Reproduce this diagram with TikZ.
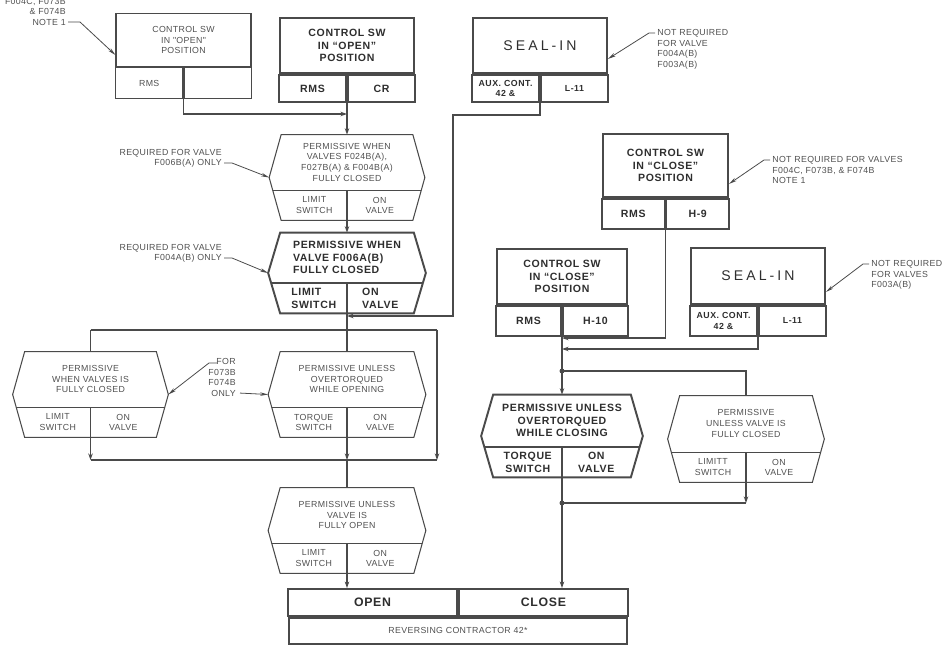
\documentclass[tikz,border=0pt]{standalone}
\usepackage{fontspec}
\setmainfont{Liberation Sans}
\newfontfamily\cadfont[LetterSpace=4]{Liberation Sans}
\newfontfamily\handfont[LetterSpace=6]{Liberation Sans}
\newfontfamily\sealfont[LetterSpace=22]{Liberation Sans}
\usetikzlibrary{arrows.meta}
\newdimen\pxu \pxu=0.02cm
\definecolor{InkGray}{HTML}{4A4A4A}
\definecolor{ThinText}{HTML}{505050}
\definecolor{HandText}{HTML}{2E2E2E}
\tikzset{
    thinline/.style={draw=InkGray, line width=0.6pt},
    boldline/.style={draw=InkGray, line width=1.1pt},
    boldleftline/.style={boldline},
    thintext/.style={font=\cadfont\fontsize{5}{6.1}\selectfont, text=ThinText, align=center, inner sep=0pt},
    boldtext/.style={font=\handfont\bfseries\fontsize{6}{7.1}\selectfont, text=HandText, align=center, inner sep=0pt},
    boldlefttext/.style={boldtext, align=left},
    thinbox/.style={thinline, thintext},
    thincell/.style={thinbox},
    boldbox/.style={boldline, boldtext},
    boldcell/.style={boldbox},
    sealbox/.style={boldline, font=\sealfont\fontsize{8}{9}\selectfont, text=HandText, inner sep=0pt},
    sealcell/.style={boldline, boldtext, font=\handfont\bfseries\fontsize{5}{6}\selectfont},
    wire/.style={draw=InkGray, line width=0.8pt},
    busline/.style={draw=InkGray, line width=1.5pt},
    flowtip/.style={-{Stealth[length=1.3mm, width=0.9mm]}},
    leader/.style={draw=InkGray, line width=0.45pt, -{Stealth[length=1.6mm, width=0.7mm]}}
}
% box with a heading and two cells below it
\newcommand{\ctlbox}[9]{%
  \node[#1box, minimum width=#4*\pxu, minimum height=#5*\pxu, anchor=north] (#2) at (#3) {#7};
  \node[#1cell, minimum width=#4/2*\pxu, minimum height=#6*\pxu, anchor=north east] (#2-l) at (#2.south) {#8};
  \node[#1cell, minimum width=#4/2*\pxu, minimum height=#6*\pxu, anchor=north west] (#2-r) at (#2.south) {#9};
}
% pointed permissive box: look, name, centre, width, height, heading, left cell, right cell
\newcommand{\permhex}[8]{%
  \node[minimum width=#4*\pxu, minimum height=#5*\pxu, inner sep=0pt] (#2) at (#3) {};
  \draw[#1line] (#2.north west) -- (#2.north east) -- ([xshift=12*\pxu]#2.east)
      -- (#2.south east) -- (#2.south west) -- ([xshift=-12*\pxu]#2.west) -- cycle;
  \draw[#1line] ([xshift=-8.5*\pxu, yshift=30*\pxu]#2.south west) -- ([xshift=8.5*\pxu, yshift=30*\pxu]#2.south east);
  \draw[#1line] ([yshift=30*\pxu]#2.south) -- (#2.south);
  \node[#1text] (#2-head) at ([yshift=-(#5-30)/2*\pxu]#2.north) {#6};
  \node[#1text] (#2-l) at ([xshift=-#4/4*\pxu, yshift=15*\pxu]#2.south) {#7};
  \node[#1text] (#2-r) at ([xshift=#4/4*\pxu, yshift=15*\pxu]#2.south) {#8};
}

\begin{document}
\begin{tikzpicture}[x=0.02cm, y=-0.02cm]
    \useasboundingbox (0,0) rectangle (948,645);
    % open side
    \ctlbox{thin}{cso1}{183.5,13}{135}{53}{31}{CONTROL SW\\IN "OPEN"\\POSITION}{RMS}{}
    \ctlbox{bold}{cso2}{347,17}{134}{55}{27}{CONTROL SW\\IN “OPEN”\\POSITION}{RMS}{CR}
    \ctlbox{seal}{sl1}{540,17}{134}{55}{27}{SEAL-IN}{AUX. CONT.\\42 \&}{L-11}
    \permhex{thin}{h1}{347,177.5}{131}{85}{PERMISSIVE WHEN\\VALVES F024B(A),\\F027B(A) \& F004B(A)\\FULLY CLOSED}{LIMIT\\SWITCH}{ON\\VALVE}
    \permhex{boldleft}{h2}{347,273}{133}{80}{PERMISSIVE WHEN\\VALVE F006A(B)\\FULLY CLOSED}{LIMIT\\SWITCH}{ON\\VALVE}
    \permhex{thin}{hl}{90.5,394.5}{131}{85}{PERMISSIVE\\WHEN VALVES IS\\FULLY CLOSED}{LIMIT\\SWITCH}{ON\\VALVE}
    \permhex{thin}{hm}{347,394.5}{133}{85}{PERMISSIVE UNLESS\\OVERTORQUED\\WHILE OPENING}{TORQUE\\SWITCH}{ON\\VALVE}
    \permhex{thin}{hb}{347,530.5}{133}{85}{PERMISSIVE UNLESS\\VALVE IS\\FULLY OPEN}{LIMIT\\SWITCH}{ON\\VALVE}
    % close side
    \ctlbox{bold}{csc1}{665.5,133}{125}{63}{30}{CONTROL SW\\IN “CLOSE”\\POSITION}{RMS}{H-9}
    \ctlbox{bold}{csc2}{562,248}{130}{55}{30}{CONTROL SW\\IN “CLOSE”\\POSITION}{RMS}{H-10}
    \ctlbox{seal}{sl2}{758,247}{134}{56}{30}{SEAL-IN}{AUX. CONT.\\42 \&}{L-11}
    \permhex{bold}{hc}{562,436}{137}{82}{PERMISSIVE UNLESS\\OVERTORQUED\\WHILE CLOSING}{TORQUE\\SWITCH}{ON\\VALVE}
    \permhex{thin}{hr}{746,439}{132}{86}{PERMISSIVE\\UNLESS VALVE IS\\FULLY CLOSED}{LIMITT\\SWITCH}{ON\\VALVE}
    % reversing contactor
    \node[boldline, thintext, minimum width=338*\pxu, minimum height=26*\pxu, anchor=north] (con) at (458,617) {REVERSING CONTRACTOR 42*};
    \node[boldbox, font=\handfont\bfseries\fontsize{7}{8}\selectfont, minimum width=169*\pxu, minimum height=27*\pxu, anchor=south east] (con-o) at (con.north) {OPEN};
    \node[boldbox, font=\handfont\bfseries\fontsize{7}{8}\selectfont, minimum width=169*\pxu, minimum height=27*\pxu, anchor=south west] (con-c) at (con.north) {CLOSE};
    % notes
    \node[thintext, align=right, anchor=south east] (n1) at (66,26) {F004C, F073B\\\& F074B\\NOTE 1};
    \node[thintext, align=left, anchor=north west] (n2) at (657,29) {NOT REQUIRED\\FOR VALVE\\F004A(B)\\F003A(B)};
    \node[thintext, align=right, anchor=south east] (n3) at (222,168) {REQUIRED FOR VALVE\\F006B(A) ONLY};
    \node[thintext, align=right, anchor=south east] (n4) at (222,263) {REQUIRED FOR VALVE\\F004A(B) ONLY};
    \node[thintext, align=right, anchor=north east] (n5) at (236,358) {FOR\\F073B\\F074B\\ONLY};
    \node[thintext, align=left, anchor=north west] (n6) at (772,156) {NOT REQUIRED FOR VALVES\\F004C, F073B, \& F074B\\NOTE 1};
    \node[thintext, align=left, anchor=north west] (n7) at (871,260) {NOT REQUIRED\\FOR VALVES\\F003A(B)};
    \draw[leader] ([xshift=2*\pxu, yshift=4*\pxu]n1.south east) -- ++(12,0) -- ([yshift=-15*\pxu]cso1.west);
    \draw[leader] ([xshift=-2*\pxu, yshift=-4*\pxu]n2.north west) -- ++(-6,0) -- ([yshift=-13.5*\pxu]sl1.east);
    \draw[leader] ([xshift=2*\pxu, yshift=5*\pxu]n3.south east) -- ++(8,0) -- ([xshift=-12*\pxu]h1.west);
    \draw[leader] ([xshift=2*\pxu, yshift=5*\pxu]n4.south east) -- ++(8,0) -- ([xshift=-12*\pxu]h2.west);
    \draw[leader] ([xshift=-19*\pxu, yshift=-5*\pxu]n5.north east) -- ++(-8,0) -- ([xshift=12*\pxu]hl.east);
    \draw[leader] ([xshift=4*\pxu, yshift=4*\pxu]n5.south east) -- ([xshift=-12*\pxu]hm.west);
    \draw[leader] ([xshift=-2*\pxu, yshift=-4*\pxu]n6.north west) -- ++(-6,0) -- ([yshift=-18.5*\pxu]csc1.east);
    \draw[leader] ([xshift=-2*\pxu, yshift=-4*\pxu]n7.north west) -- ++(-6,0) -- ([yshift=-16*\pxu]sl2.east);
    % open logic
    \coordinate (jo1) at (347,114);
    \coordinate (sl1turn) at (453,115);
    \coordinate (jo2) at (347,316);
    \coordinate (bus1L) at (90.5,330);
    \coordinate (bus1R) at (437,330);
    \coordinate (bus2L) at (90.5,460);
    \coordinate (bus2M) at (347,460);
    \coordinate (bus2R) at (437,460);
    \draw[wire, flowtip] (cso1-l.south east) |- (jo1);
    \draw[wire, flowtip] (cso2-l.south east) -- (h1.north);
    \draw[wire, flowtip] (h1.south) -- (h2.north);
    \draw[wire, flowtip] (sl1-l.south east) |- (sl1turn) |- (jo2);
    \draw[wire] (h2.south) -- (hm.north);
    \draw[busline] (bus1L) -- (bus1R);
    \draw[wire] (bus1L) -- (hl.north);
    \draw[wire, flowtip] (hl.south) -- (bus2L);
    \draw[wire, flowtip] (hm.south) -- (bus2M);
    \draw[busline, flowtip] (bus1R) -- (bus2R);
    \draw[busline] (bus2L) -- (bus2R);
    \draw[wire] (bus2M) -- (hb.north);
    \draw[wire, flowtip] (hb.south) -- (hb.south |- con-o.north);
    % close logic
    \coordinate (jc1) at (562,338);
    \coordinate (jc2) at (562,349);
    \coordinate (jc3) at (562,371);
    \coordinate (jc4) at (562,503);
    \draw[wire, flowtip] (csc1-l.south east) |- (jc1);
    \draw[wire, flowtip] (sl2-l.south east) |- (jc2);
    \draw[wire, flowtip] (csc2-l.south east) -- (hc.north);
    \draw[wire] (jc3) -| (hr.north);
    \draw[wire, flowtip] (hc.south) -- (hc.south |- con-c.north);
    \draw[wire, flowtip] (hr.south) -- (hr.south |- jc4);
    \draw[wire] (hr.south |- jc4) -- (jc4);
    \fill[InkGray] (jc3) circle[radius=0.05cm];
    \fill[InkGray] (jc4) circle[radius=0.05cm];
\end{tikzpicture}
\end{document}
